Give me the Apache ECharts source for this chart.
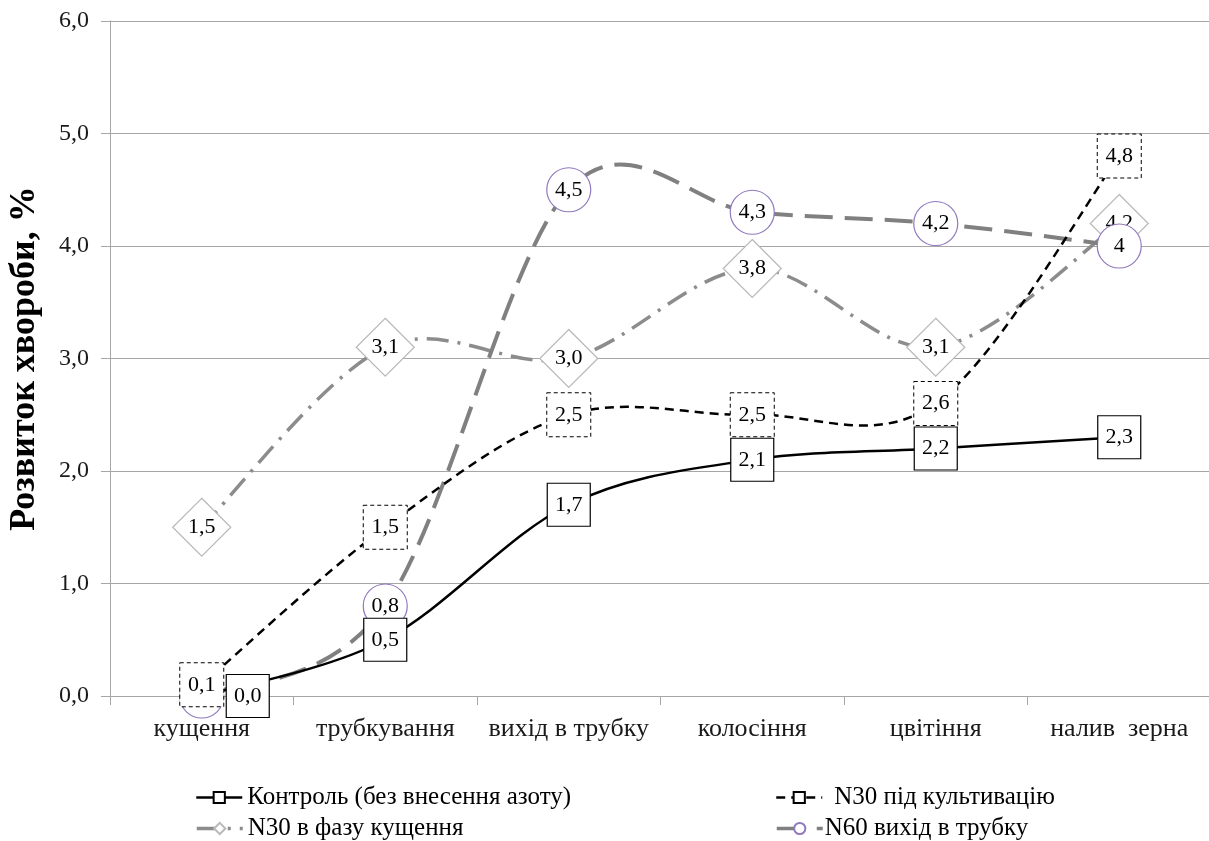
<!DOCTYPE html>
<html>
<head>
<meta charset="utf-8">
<script src="https://cdn.jsdelivr.net/npm/echarts@6/dist/echarts.min.js"></script>
<style>
  html, body { margin: 0; padding: 0; background: #ffffff; }
  #chart { width: 1209px; height: 841px; }
</style>
</head>
<body>
<div id="chart"></div>
<script>
// Growth stages (x axis)
const stages = ['кущення', 'трубкування', 'вихід в трубку', 'колосіння', 'цвітіння', 'налив  зерна'];

// Disease development, % — one array per treatment
const control = [0.0, 0.5, 1.7, 2.1, 2.2, 2.3];
const n30Cultivation = [0.1, 1.5, 2.5, 2.5, 2.6, 4.8];
const n30Tillering = [1.5, 3.1, 3.0, 3.8, 3.1, 4.2];
const n60Booting = [0.0, 0.8, 4.5, 4.3, 4.2, 4.0];

// Series names
const seriesNames = [
  'Контроль (без внесення азоту)',
  'N30 під культивацію',
  'N30 в фазу кущення',
  'N60 вихід в трубку'
];

// Y axis ticks
const yMin = 0, yMax = 6, yStep = 1;

const SERIF = '"Liberation Serif", "DejaVu Serif", serif';

const fmt1 = v => v.toFixed(1).replace('.', ',');
const fmtShort = v => String(v).replace('.', ',');

// Line looks per treatment
const looks = {
  control:  { color: '#000000', width: 2.5, type: 'solid' },
  cult:     { color: '#000000', width: 2.5, type: [9, 6] },
  tiller:   { color: '#8c8c8c', width: 3.5, type: [22, 9, 3, 9] },
  booting:  { color: '#808080', width: 4,   type: [28, 12] }
};

const labelBase = {
  show: true,
  position: 'inside',
  fontFamily: SERIF,
  fontSize: 22,
  color: '#000000'
};

// Smooth curve through the data points (cubic Bezier, neighbour tangents / 6),
// drawn through the cartesian coordinate system of the chart.
function curveSeries(values, look, z) {
  return {
    type: 'custom',
    name: '_curve',
    coordinateSystem: 'cartesian2d',
    silent: true,
    z: z,
    data: values.map((v, i) => [i, v]),
    encode: { x: 0, y: 1 },
    renderItem: (params, api) => {
      if (params.dataIndex !== 0) return null;
      const p = values.map((v, i) => api.coord([i, v]));
      const n = p.length;
      const at = k => p[Math.max(0, Math.min(n - 1, k))];
      let d = 'M' + p[0][0] + ' ' + p[0][1];
      for (let i = 0; i < n - 1; i++) {
        const a = at(i - 1), b = at(i), c = at(i + 1), e = at(i + 2);
        const c1 = [b[0] + (c[0] - a[0]) / 6, b[1] + (c[1] - a[1]) / 6];
        const c2 = [c[0] - (e[0] - b[0]) / 6, c[1] - (e[1] - b[1]) / 6];
        d += ' C' + c1[0] + ' ' + c1[1] + ' ' + c2[0] + ' ' + c2[1] + ' ' + c[0] + ' ' + c[1];
      }
      return {
        type: 'path',
        shape: { pathData: d },
        style: {
          fill: null,
          stroke: look.color,
          lineWidth: look.width,
          lineDash: look.type === 'solid' ? null : look.type,
          lineCap: 'butt'
        }
      };
    }
  };
}

// Marker + value label series (the curve itself is drawn by curveSeries)
function markerSeries(name, values, look, symbol, size, itemStyle, fmt, z, extra) {
  return {
    name: name,
    type: 'line',
    z: z,
    data: values.map((v, i) => (extra && extra[i]) ? Object.assign({ value: v }, extra[i]) : v),
    symbol: symbol,
    symbolSize: size,
    showAllSymbol: true,
    lineStyle: { color: look.color, width: look.width, type: look.type, opacity: 0 },
    itemStyle: itemStyle,
    label: Object.assign({}, labelBase, { formatter: p => fmt(p.value) })
  };
}

function legendAt(name, look, left, top, gap) {
  return {
    left: left, top: top,
    padding: 0,
    itemWidth: 46, itemHeight: 14,
    textStyle: { fontFamily: SERIF, fontSize: 25, color: '#000000', padding: [0, 0, 0, gap] },
    data: [{
      name: name,
      lineStyle: { color: look.color, width: Math.min(look.width, 3.5), type: look.type, opacity: 1 }
    }]
  };
}

const chart = echarts.init(document.getElementById('chart'), null, { renderer: 'canvas' });

const option = {
  animation: false,
  backgroundColor: '#ffffff',
  grid: { left: 110, right: -2, top: 21, bottom: 145, containLabel: false, outerBoundsMode: 'none' },
  xAxis: {
    type: 'category',
    data: stages,
    boundaryGap: true,
    axisLine: { lineStyle: { color: '#a6a6a6', width: 1 } },
    axisTick: { show: true, length: 9, lineStyle: { color: '#a6a6a6' } },
    axisLabel: { fontFamily: SERIF, fontSize: 26, color: '#1a1a1a', margin: 20, interval: 0, hideOverlap: false },
    splitLine: { show: false }
  },
  yAxis: {
    type: 'value',
    min: yMin, max: yMax, interval: yStep,
    name: 'Розвиток хвороби, %',
    nameLocation: 'middle',
    nameGap: 67,
    nameRotate: 90,
    nameTextStyle: { fontFamily: SERIF, fontSize: 36, fontWeight: 'bold', color: '#000000' },
    axisLine: { show: true, lineStyle: { color: '#a6a6a6', width: 1 } },
    axisTick: { show: true, length: 9, lineStyle: { color: '#a6a6a6' } },
    axisLabel: { fontFamily: SERIF, fontSize: 24, color: '#1a1a1a', margin: 21, formatter: v => fmt1(v) },
    splitLine: { lineStyle: { color: '#a6a6a6', width: 1 } }
  },
  legend: [
    legendAt(seriesNames[0], looks.control, 195, 785, 0),
    legendAt(seriesNames[2], looks.tiller, 195, 816, 0),
    legendAt(seriesNames[1], looks.cult, 775, 785, 7),
    legendAt(seriesNames[3], looks.booting, 775, 816, -3)
  ],
  series: [
    curveSeries(n30Tillering, looks.tiller, 1),
    curveSeries(n60Booting, looks.booting, 1),
    curveSeries(n30Cultivation, looks.cult, 1),
    curveSeries(control, looks.control, 1),
    markerSeries(seriesNames[2], n30Tillering, looks.tiller, 'diamond', 58,
      { color: '#ffffff', borderColor: '#b8b8b8', borderWidth: 1.2 }, fmt1, 2),
    markerSeries(seriesNames[3], n60Booting, looks.booting, 'circle', 44,
      { color: '#ffffff', borderColor: '#9179bd', borderWidth: 1.2 }, fmtShort, 3,
      { 0: { label: { show: false } } }),
    markerSeries(seriesNames[1], n30Cultivation, looks.cult, 'rect', [44, 44],
      { color: '#ffffff', borderColor: '#000000', borderWidth: 1, borderType: [4, 3] }, fmt1, 4),
    markerSeries(seriesNames[0], control, looks.control, 'rect', [43, 43],
      { color: '#ffffff', borderColor: '#000000', borderWidth: 1.2 }, fmt1, 5,
      { 0: { symbolOffset: [46, 0] } })
  ]
};

chart.setOption(option);
</script>
</body>
</html>
